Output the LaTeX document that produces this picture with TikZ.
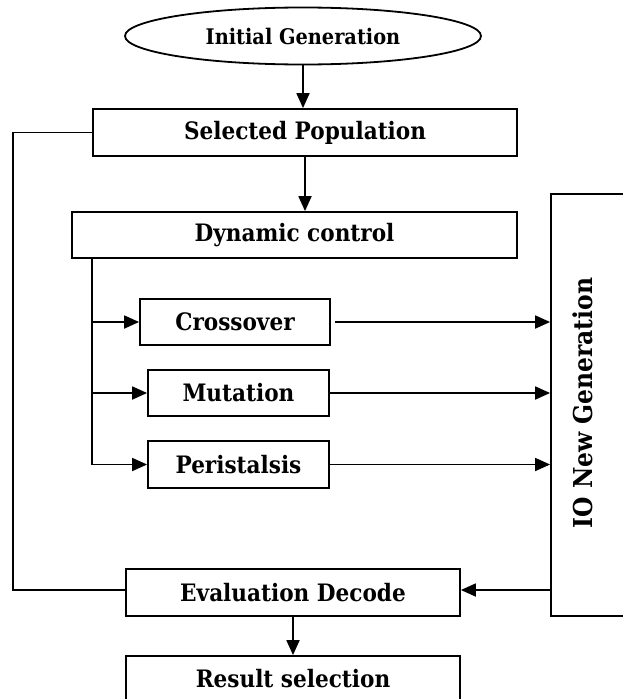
\documentclass[tikz,border=0pt]{standalone}
\usepackage{fontspec}
\setmainfont{DejaVu Serif Condensed}
\usetikzlibrary{shapes.geometric,arrows.meta}
\begin{document}
\begin{tikzpicture}[x=1pt,y=-1pt,
		box/.style={draw,line width=1.8pt,inner sep=0pt,font=\fontsize{24}{28}\selectfont\bfseries},
		arr/.style={line width=1.8pt,-{Triangle[length=15pt,width=13pt]}},
		wire/.style={line width=1.8pt}]
		\useasboundingbox (0,0) rectangle (623,699);
		\node [box,ellipse,minimum width=356pt,minimum height=57pt,font=\fontsize{21.5}{26}\selectfont\bfseries] (init) at ( 303, 36 ) {Initial Generation};
		\node [box,minimum width=424pt,minimum height=47pt] (sel) at ( 305, 132.5 ) {Selected Population};
		\node [box,minimum width=445pt,minimum height=46pt] (dyn) at ( 294.5, 235 ) {Dynamic control};
		\node [box,minimum width=190pt,minimum height=46pt] (cross) at ( 235, 322 ) {Crossover};
		\node [box,minimum width=181pt,minimum height=46pt] (mut) at ( 238.5, 393 ) {Mutation};
		\node [box,minimum width=181pt,minimum height=47pt] (peri) at ( 238.5, 464.5 ) {Peristalsis};
		\node [box,minimum width=140pt,minimum height=422pt] (iobox) at ( 621, 405 ) {};
		\node [font=\fontsize{26}{30}\selectfont\bfseries,rotate=90] (iotxt) at ( 583, 403 ) {IO New Generation};
		\node [box,minimum width=334pt,minimum height=47pt] (eval) at ( 293, 592.5 ) {Evaluation Decode};
		\node [box,minimum width=334pt,minimum height=46pt] (res) at ( 293, 679 ) {Result selection};
		\coordinate (trunk) at ([xshift=21pt]dyn.south west);
		\coordinate (back) at ( 13, 132.5 );
		% main column
		\draw [arr] (init.south) -- (init.south |- sel.north);
		\draw [arr] (sel.south) -- (sel.south |- dyn.north);
		\draw [arr] (eval.south) -- (res.north);
		% operators
		\draw [wire] (trunk) -- (trunk |- peri);
		\draw [arr] (trunk |- cross) -- (cross.west);
		\draw [arr] (trunk |- mut) -- (mut.west);
		\draw [arr] (trunk |- peri) -- (peri.west);
		\draw [arr] ([xshift=4pt]cross.east) -- (cross -| iobox.west);
		\draw [arr] (mut.east) -- (mut -| iobox.west);
		\draw [arr] (peri.east) -- (peri -| iobox.west);
		% feedback
		\draw [arr] ([yshift=2.5pt]eval.east -| iobox.west) -- ([yshift=2.5pt]eval.east);
		\draw [wire] (sel.west) -- (back) |- ([yshift=2.5pt]eval.west);
	\end{tikzpicture}
\end{document}
